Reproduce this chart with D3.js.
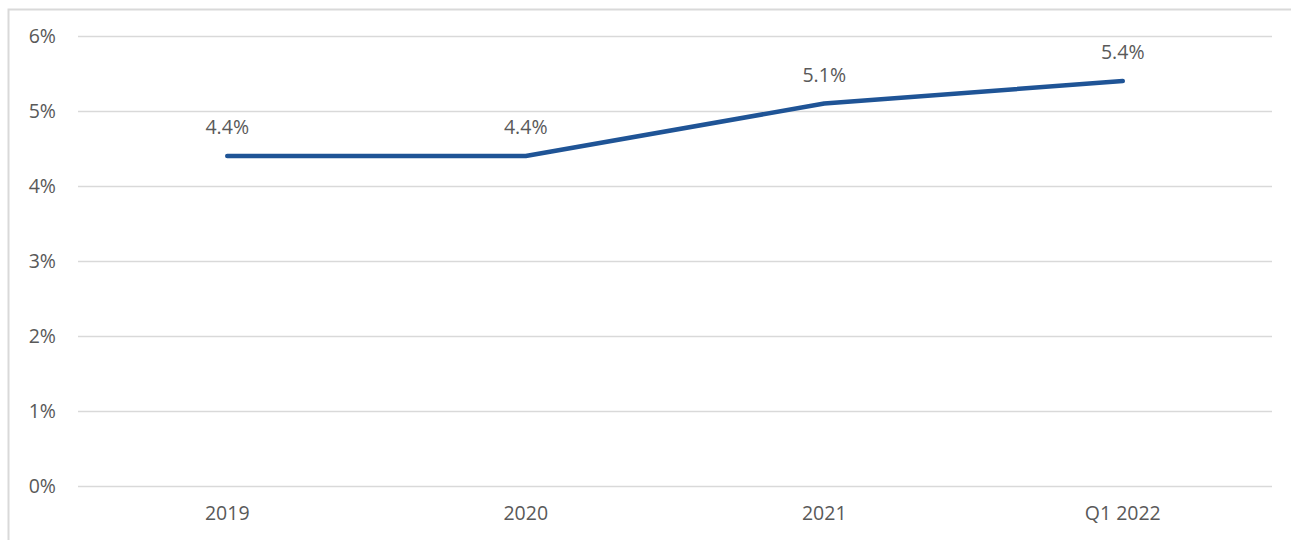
<!DOCTYPE html>
<html>
<head>
<meta charset="utf-8">
<script src="https://cdn.jsdelivr.net/npm/d3@7"></script>
<style>
  html, body { margin: 0; padding: 0; background: #fff; }
  svg { display: block; }
</style>
</head>
<body>
<svg id="chart" width="1291" height="540"></svg>
<script>
const categories = ['2019', '2020', '2021', 'Q1 2022']
const values = [4.4, 4.4, 5.1, 5.4]
const yTicks = [0, 1, 2, 3, 4, 5, 6]

const width = 1291
const height = 540
const margin = { top: 36, right: 20, bottom: 54, left: 78 }

const svg = d3.select('#chart')
const font = "'Open Sans', 'Liberation Sans', sans-serif"
const fontSize = 19.5

// chart frame
svg.append('path')
  .attr('d', `M8.5,${height} L8.5,9.5 L${width},9.5`)
  .attr('fill', 'none')
  .attr('stroke', '#d9d9d9')
  .attr('stroke-width', 2)

const x = d3.scaleBand()
  .domain(categories)
  .range([margin.left, 1272])

const y = d3.scaleLinear()
  .domain([0, 6])
  .range([height - margin.bottom, margin.top])

// gridlines
svg.append('g')
  .selectAll('line')
  .data(yTicks)
  .join('line')
  .attr('x1', margin.left)
  .attr('x2', 1272)
  .attr('y1', d => Math.round(y(d)) + 0.5)
  .attr('y2', d => Math.round(y(d)) + 0.5)
  .attr('stroke', '#d9d9d9')
  .attr('stroke-width', 1.5)

// y axis labels
const yAxis = d3.axisLeft(y).tickValues(yTicks).tickSize(0).tickPadding(0)
  .tickFormat(d => d + '%')
svg.append('g')
  .attr('transform', 'translate(56,0)')
  .call(yAxis)
  .call(g => g.select('.domain').remove())
  .selectAll('text')
  .attr('fill', '#595959')
  .attr('font-family', font)
  .attr('font-size', fontSize)

// x axis labels
const xAxis = d3.axisBottom(x).tickSize(0).tickPadding(0)
svg.append('g')
  .attr('transform', `translate(0,${height - margin.bottom + 20})`)
  .call(xAxis)
  .call(g => g.select('.domain').remove())
  .selectAll('text')
  .attr('fill', '#595959')
  .attr('font-family', font)
  .attr('font-size', fontSize)

// line
const line = d3.line()
  .x((d, i) => x(categories[i]) + x.bandwidth() / 2)
  .y(d => y(d))

svg.append('path')
  .datum(values)
  .attr('d', line)
  .attr('fill', 'none')
  .attr('stroke', '#1f5496')
  .attr('stroke-width', 4.5)
  .attr('stroke-linecap', 'round')
  .attr('stroke-linejoin', 'round')

// data labels
svg.append('g')
  .selectAll('text')
  .data(values)
  .join('text')
  .attr('x', (d, i) => x(categories[i]) + x.bandwidth() / 2)
  .attr('y', d => y(d) - 22)
  .attr('text-anchor', 'middle')
  .attr('fill', '#595959')
  .attr('font-family', font)
  .attr('font-size', fontSize)
  .text(d => d.toFixed(1) + '%')
</script>
</body>
</html>
